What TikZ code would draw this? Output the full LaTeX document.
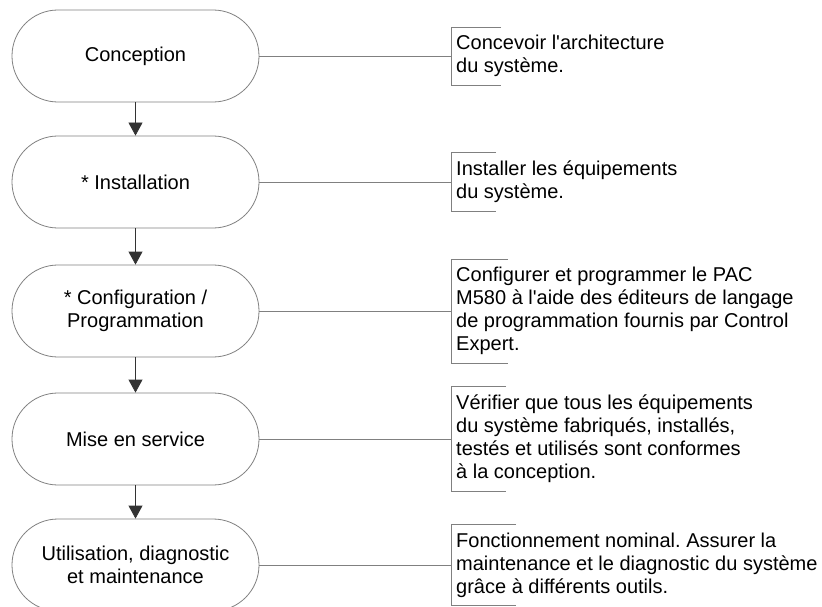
\documentclass[tikz,border=0pt]{standalone}
\usepackage{fontspec}
\setmainfont{Liberation Sans}
\usetikzlibrary{arrows.meta}
\frenchspacing

\begin{document}
\begin{tikzpicture}[x=1pt, y=-1pt,
        etape/.style={draw=gray, line width=0.8pt, rounded corners=45.9pt,
            minimum width=247pt, minimum height=92pt, align=center, inner sep=0pt,
            font=\fontsize{20}{23.5}\selectfont},
        note/.style={anchor=west, align=left, inner xsep=5pt, inner ysep=8pt,
            font=\fontsize{20}{23}\selectfont},
        fleche/.style={black!80, line width=0.8pt, -{Triangle[width=14pt, length=13pt]}},
        trait/.style={gray, line width=0.8pt}]
        \useasboundingbox (0,0) rectangle (822,607);

        % Étapes
        \node[etape] (E1) at (135.5,56)  {Conception};
        \node[etape] (E2) at (135.5,182) {* Installation};
        \node[etape] (E3) at (135.5,311) {* Configuration /\\Programmation};
        \node[etape] (E4) at (135.5,439) {Mise en service};
        \node[etape] (E5) at (135.5,565) {Utilisation, diagnostic\\et maintenance};

        % Descriptions
        \node[note] (N1) at (451,56)  {Concevoir l\textquotesingle architecture\\du système.};
        \node[note] (N2) at (451,182) {Installer les équipements\\du système.};
        \node[note] (N3) at (451,311) {Configurer et programmer le PAC\\M580 à l\textquotesingle aide des éditeurs de langage\\de programmation fournis par Control\\Expert.};
        \node[note] (N4) at (451,439) {Vérifier que tous les équipements\\du système fabriqués, installés,\\testés et utilisés sont conformes\\à la conception.};
        \node[note] (N5) at (451,565) {Fonctionnement nominal. Assurer la\\maintenance et le diagnostic du système\\grâce à différents outils.};

        % Flèches
        \foreach \a/\b in {E1/E2,E2/E3,E3/E4,E4/E5}
            \draw[fleche] (\a) -- (\b);

        % Liaisons et crochets
        \foreach \i/\l in {1/50,2/45,3/57,4/55,5/65} {
            \draw[trait] (E\i.east) -- (N\i.west);
            \draw[trait] ([xshift=\l pt]N\i.north west) -- (N\i.north west)
                -- (N\i.south west) -- ++(\l,0);
        }
    \end{tikzpicture}
\end{document}
